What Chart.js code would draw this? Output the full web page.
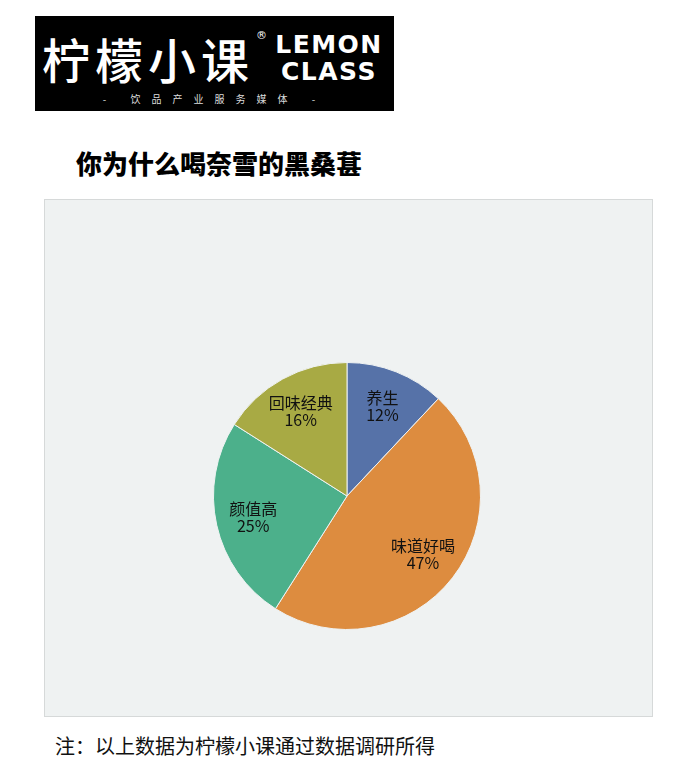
<!DOCTYPE html>
<html>
<head>
<meta charset="utf-8">
<script src="https://cdn.jsdelivr.net/npm/chart.js@4/dist/chart.umd.min.js"></script>
<style>
  body { margin: 0; background: #fff; width: 700px; height: 783px; position: relative; overflow: hidden; font-family: "Noto Sans CJK SC", sans-serif; }
  .logo { position: absolute; left: 35px; top: 16px; width: 359px; height: 95px; background: #000; color: #fff; }
  .logo .cn { position: absolute; left: 7px; top: 16px; font-size: 48px; line-height: 52px; letter-spacing: 5px; font-weight: 500; }
  .logo .reg { position: absolute; left: 221px; top: 14px; font-size: 11px; line-height: 12px; font-family: "DejaVu Sans", sans-serif; }
  .logo .en { position: absolute; left: 238px; font-family: "DejaVu Sans", sans-serif; font-weight: bold; font-size: 25px; line-height: 24px; letter-spacing: 1.5px; width: 112px; text-align: center; }
  .logo .en1 { top: 17px; }
  .logo .en2 { top: 44px; }
  .logo .sub { position: absolute; left: 0; width: 359px; top: 76px; font-size: 10px; line-height: 14px; text-align: center; letter-spacing: 11px; color: #ddd; }
  .title { position: absolute; left: 76px; top: 144px; font-size: 26px; font-weight: 900; color: #000; }
  .panel { position: absolute; left: 44px; top: 199px; width: 607px; height: 516px; background: #eff2f2; border: 1px solid #d6d9d9; }
  .panel canvas { position: absolute; left: 152px; top: 146px; }
  .note { position: absolute; left: 55px; top: 731px; font-size: 20px; color: #111; }
</style>
</head>
<body>
<div class="logo">
  <div class="cn">柠檬小课</div>
  <div class="reg">®</div>
  <div class="en en1">LEMON</div>
  <div class="en en2">CLASS</div>
  <div class="sub">- 饮品产业服务媒体 -</div>
</div>
<div class="title">你为什么喝奈雪的黑桑葚</div>
<div class="panel">
  <canvas id="pie" width="300" height="300"></canvas>
</div>
<div class="note">注：以上数据为柠檬小课通过数据调研所得</div>

<script>
const labels = ['养生', '味道好喝', '颜值高', '回味经典'];
const values = [12, 47, 25, 16];
const colors = ['#5672a8', '#dd8c3f', '#4cb08b', '#a8aa44'];

// draw category + percent inside each slice
const sliceLabels = {
  id: 'sliceLabels',
  afterDatasetsDraw(chart) {
    const ctx = chart.ctx;
    const meta = chart.getDatasetMeta(0);
    const total = values.reduce((a, b) => a + b, 0);
    ctx.save();
    ctx.fillStyle = '#111';
    ctx.font = '16px "Noto Sans CJK SC", sans-serif';
    ctx.textAlign = 'center';
    ctx.textBaseline = 'middle';
    meta.data.forEach((arc, i) => {
      const mid = (arc.startAngle + arc.endAngle) / 2;
      const r = arc.outerRadius * 0.72;
      const x = arc.x + Math.cos(mid) * r;
      const y = arc.y + Math.sin(mid) * r;
      ctx.fillText(labels[i], x, y - 8.5);
      ctx.fillText(Math.round(values[i] / total * 100) + '%', x, y + 8.5);
    });
    ctx.restore();
  }
};

new Chart(document.getElementById('pie'), {
  type: 'pie',
  data: {
    labels: labels,
    datasets: [{
      data: values,
      backgroundColor: colors,
      borderColor: '#eff2f2',
      borderWidth: 1
    }]
  },
  options: {
    responsive: false,
    animation: false,
    layout: { padding: 16 },
    plugins: {
      legend: { display: false },
      tooltip: { enabled: false }
    }
  },
  plugins: [sliceLabels]
});
</script>
</body>
</html>
